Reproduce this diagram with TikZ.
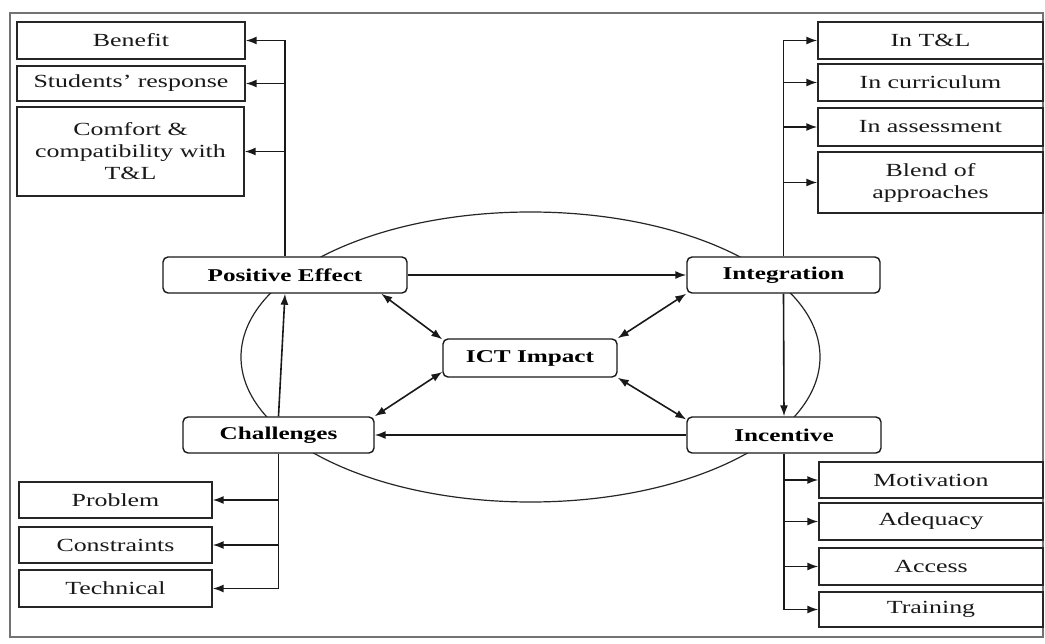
\documentclass[tikz,border=0pt]{standalone}
\usepackage{fontspec}
\setmainfont{Liberation Serif}[FakeStretch=1.4]
\usetikzlibrary{arrows.meta}
\begin{document}
\begin{tikzpicture}[x=1pt,y=-1pt,
  sz/.style 2 args={minimum width=#1pt,minimum height=#2pt},
  sbox/.style={draw=black!85,line width=1.4pt,fill=white,inner sep=0pt,align=center,
    font=\fontsize{18.5}{22}\selectfont,text=black!90},
  cbox/.style={draw=black!90,line width=1.4pt,fill=white,rounded corners=5pt,inner sep=0pt,
    font=\fontsize{18}{22}\selectfont\bfseries,text=black},
  arr/.style={line width=1.6pt,draw=black!90,-{Latex[length=11pt,width=8pt]}},
  darr/.style={line width=1.6pt,draw=black!90,{Latex[length=11pt,width=8pt]}-{Latex[length=11pt,width=8pt]}},
  ell/.style={line width=1.2pt,draw=black!85}]
\useasboundingbox (0,0) rectangle (1045,644);
% frame
\draw[black!55,line width=1.2pt] (10,13) rectangle (1043,637);
% ellipse
\draw[ell] (530.5,357) ellipse [x radius=289.5, y radius=145];
% left top boxes
\node[sbox,sz={228}{37}] (ben) at (131,40.5) {Benefit};
\node[sbox,sz={228}{35}] (stu) at (131,83.5) {Students' response};
\node[sbox,sz={227}{89}] (com) at (130.5,151.5) {Comfort \&\\compatibility with\\T\&L};
% right top boxes
\node[sbox,sz={225}{37}] (itl) at (930.5,40.5) {In T\&L};
\node[sbox,sz={225}{37}] (cur) at (930.5,82.5) {In curriculum};
\node[sbox,sz={225}{38}] (ass) at (930.5,127) {In assessment};
\node[sbox,sz={225}{61}] (ble) at (930.5,182.5) {Blend of\\approaches};
% central nodes
\node[cbox,sz={244}{36}] (pe) at (285,275) {Positive Effect};
\node[cbox,sz={193}{36}] (int) at (783.5,275) {Integration};
\node[cbox,sz={174}{38}] (ict) at (530,358) {ICT Impact};
\node[cbox,sz={191}{36}] (cha) at (278.5,435) {Challenges};
\node[cbox,sz={194}{36}] (inc) at (784,435) {Incentive};
% left bottom boxes
\node[sbox,sz={193}{36}] (pro) at (115.5,500) {Problem};
\node[sbox,sz={193}{36}] (con) at (115.5,545) {Constraints};
\node[sbox,sz={193}{37}] (tec) at (115.5,588.5) {Technical};
% right bottom boxes
\node[sbox,sz={224}{36}] (mot) at (931,480) {Motivation};
\node[sbox,sz={224}{37}] (ade) at (931,521.5) {Adequacy};
\node[sbox,sz={224}{37}] (acc) at (931,566.5) {Access};
\node[sbox,sz={224}{35}] (tra) at (931,609.5) {Training};
% branches: positive effect
\draw[arr] (pe.north) |- (ben.east);
\draw[arr] (pe.north |- stu.east) -- (stu.east);
\draw[arr] (pe.north |- com.east) -- (com.east);
% branches: integration
\draw[arr] (int.north) |- (itl.west);
\draw[arr] (int.north |- cur.west) -- (cur.west);
\draw[arr] (int.north |- ass.west) -- (ass.west);
\draw[arr] (int.north |- ble.west) -- (ble.west);
% branches: challenges
\draw[arr] (cha.south) |- (tec.east);
\draw[arr] (cha.south |- pro.east) -- (pro.east);
\draw[arr] (cha.south |- con.east) -- (con.east);
% branches: incentive
\draw[arr] (inc.south) |- (tra.west);
\draw[arr] (inc.south |- mot.west) -- (mot.west);
\draw[arr] (inc.south |- ade.west) -- (ade.west);
\draw[arr] (inc.south |- acc.west) -- (acc.west);
% cycle
\draw[arr] (pe.east) -- (int.west);
\draw[arr] (int.south) -- (inc.north);
\draw[arr] (inc.west) -- (cha.east);
\draw[arr] (cha.north) -- (pe.south);
% double arrows with ICT
\draw[darr] (pe.-11.2) -- (ict.168.7);
\draw[darr] (int.south west) -- (ict.north east);
\draw[darr] (ict.189) -- (cha.north east);
\draw[darr] (ict.south east) -- (inc.171);
\end{tikzpicture}
\end{document}
